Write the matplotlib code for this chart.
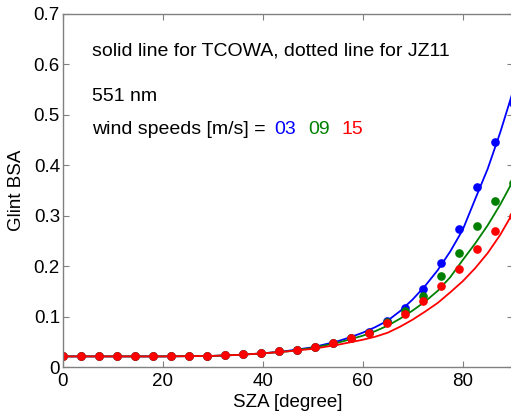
import numpy as np
import matplotlib
matplotlib.use("Agg")
import matplotlib.pyplot as plt
from matplotlib.ticker import FuncFormatter

plt.rcParams["font.family"] = ["Liberation Sans", "DejaVu Sans"]

# TCOWA curves (solid lines)
sza_line = [0, 10, 20, 30, 35, 40, 45, 50, 52.5, 55, 57.5, 60, 62.5, 65,
            67.5, 70, 72.5, 75, 77.5, 80, 82.5, 85, 87.5, 90]
tcowa_03 = [0.021, 0.021, 0.021, 0.022, 0.024, 0.027, 0.032, 0.039, 0.045,
            0.051, 0.059, 0.068, 0.079, 0.092, 0.111, 0.134, 0.161, 0.192,
            0.229, 0.272, 0.333, 0.393, 0.465, 0.545]
tcowa_09 = [0.021, 0.021, 0.021, 0.022, 0.024, 0.027, 0.031, 0.038, 0.043,
            0.048, 0.055, 0.062, 0.071, 0.082, 0.096, 0.112, 0.130, 0.151,
            0.178, 0.212, 0.245, 0.281, 0.322, 0.368]
tcowa_15 = [0.021, 0.021, 0.021, 0.022, 0.024, 0.027, 0.031, 0.036, 0.040,
            0.044, 0.049, 0.054, 0.060, 0.068, 0.080, 0.094, 0.110, 0.127,
            0.148, 0.170, 0.196, 0.226, 0.262, 0.305]

# JZ11 values (dots)
sza_dot = [0, 3.6, 7.2, 10.8, 14.4, 18, 21.6, 25.2, 28.8, 32.4, 36, 39.6,
           43.2, 46.8, 50.4, 54, 57.6, 61.2, 64.8, 68.4, 72, 75.6, 79.2,
           82.8, 86.4, 90]
jz11_03 = [0.022, 0.022, 0.022, 0.022, 0.022, 0.022, 0.022, 0.022, 0.022,
           0.0235, 0.026, 0.0285, 0.031, 0.034, 0.040, 0.047, 0.057, 0.069,
           0.091, 0.117, 0.154, 0.207, 0.274, 0.357, 0.447, 0.524]
jz11_09 = [0.022, 0.022, 0.022, 0.022, 0.022, 0.022, 0.022, 0.022, 0.022,
           0.0235, 0.026, 0.0285, 0.031, 0.034, 0.040, 0.047, 0.057, 0.068,
           0.090, 0.112, 0.141, 0.180, 0.227, 0.280, 0.329, 0.364]
jz11_15 = [0.022, 0.022, 0.022, 0.022, 0.022, 0.022, 0.022, 0.022, 0.022,
           0.0235, 0.026, 0.0285, 0.031, 0.034, 0.040, 0.047, 0.057, 0.068,
           0.087, 0.105, 0.131, 0.161, 0.195, 0.234, 0.269, 0.300]

wind_labels = ["03", "09", "15"]
colors = ["#0000ff", "#008000", "#ff0000"]

fig = plt.figure(figsize=(5.11, 4.18), dpi=100)
ax = fig.add_axes([62.7 / 511, 51 / 418, 450 / 511, 353 / 418])

for yl, yd, c in zip([tcowa_03, tcowa_09, tcowa_15],
                     [jz11_03, jz11_09, jz11_15], colors):
    ax.plot(sza_line, yl, color=c, lw=1.3)
    ax.plot(sza_dot, yd, "o", color=c, ms=5.2, mec=c)

ax.set_xlim(0, 90)
ax.set_ylim(0, 0.7)
ax.set_xticks([0, 20, 40, 60, 80])
ax.set_yticks(np.arange(0, 0.71, 0.1))
ax.yaxis.set_major_formatter(FuncFormatter(lambda v, p: f"{v:g}"))
ax.tick_params(direction="in", length=4, width=0.8, color="#808080",
               labelsize=13.5, top=True, right=True)
ax.tick_params(axis="y", pad=2)
ax.tick_params(axis="x", pad=4)
for s in ax.spines.values():
    s.set_color("#808080")
    s.set_linewidth(1.0)

ax.set_xlabel("SZA [degree]", fontsize=13.5, labelpad=3)
ax.set_ylabel("Glint BSA", fontsize=13.5, labelpad=6)

fs = 14
x0 = 5.8
ax.text(x0, (367 - 56.7) / 503, "solid line for TCOWA, dotted line for JZ11",
        fontsize=fs, va="baseline")
ax.text(x0, (367 - 101.7) / 503, "551 nm", fontsize=fs, va="baseline")
prev = ax.text(x0, (367 - 135) / 503, "wind speeds [m/s] =", fontsize=fs,
               va="baseline")
gaps = [9, 12, 12]
for lab, c, g in zip(wind_labels, colors, gaps):
    prev = ax.annotate(lab, xy=(1, 0), xycoords=prev, xytext=(g, 0),
                       textcoords="offset pixels", fontsize=fs, color=c,
                       va="bottom")

fig.savefig("out.png", dpi=100)
